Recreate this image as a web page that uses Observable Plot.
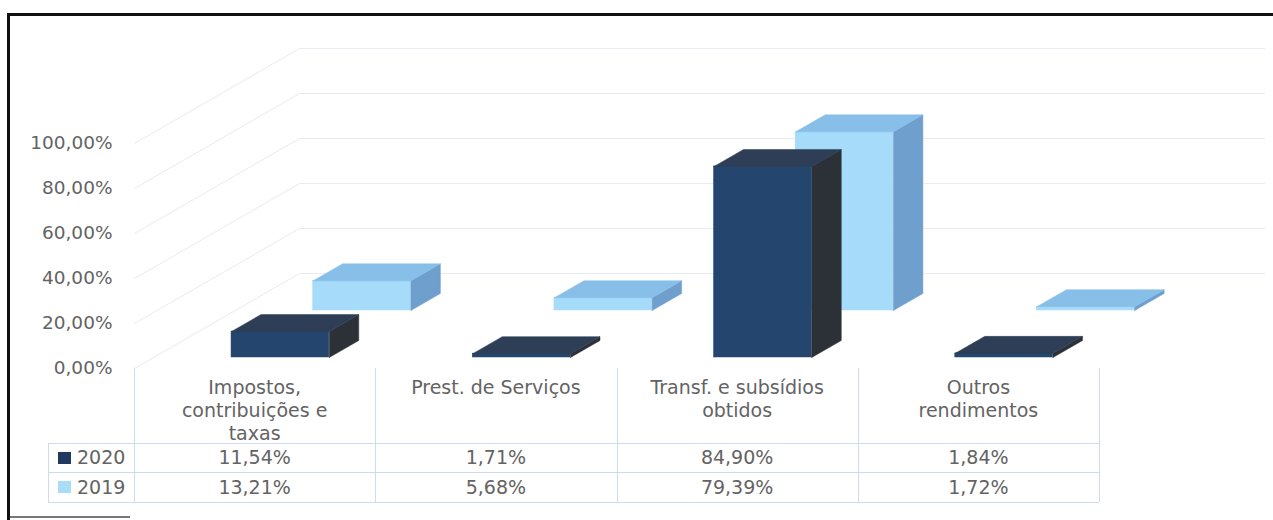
<!DOCTYPE html>
<html><head><meta charset="utf-8">
<script src="https://cdn.jsdelivr.net/npm/d3@7"></script>
<script src="https://cdn.jsdelivr.net/npm/@observablehq/plot@0.6"></script>
<style>
body{margin:0;background:#fff;}
#wrap{position:relative;width:1273px;height:520px;overflow:hidden;font-family:"DejaVu Sans",sans-serif;color:#636363;}
#frame{position:absolute;left:7px;top:13px;width:1290px;height:520px;border-left:3px solid #111;border-top:3px solid #111;}
#bottomline{position:absolute;left:10px;top:516px;width:120px;height:0;border-top:2px solid #777;}
#chart{position:absolute;left:0;top:0;}
.cell{position:absolute;text-align:center;font-size:19px;line-height:23px;white-space:nowrap;}
.hl{position:absolute;height:0;border-top:1px solid #cddbed;}
.vl{position:absolute;width:0;border-left:1px solid #cddbed;}
.sw{position:absolute;width:13px;height:12px;}
</style></head><body>
<div id="wrap"><div id="frame"></div><div id="bottomline"></div><div id="chart"></div><div id="table"></div></div>
<script>
// ---- data ----
const categories = ["Impostos, contribuições e taxas", "Prest. de Serviços", "Transf. e subsídios obtidos", "Outros rendimentos"];
const categoryLines = [["Impostos,", "contribuições e", "taxas"], ["Prest. de Serviços"], ["Transf. e subsídios", "obtidos"], ["Outros", "rendimentos"]];
const seriesNames = ["2020", "2019"];
const values2020 = [11.54, 1.71, 84.90, 1.84];
const values2019 = [13.21, 5.68, 79.39, 1.72];
const yTicks = [0, 20, 40, 60, 80, 100];

// ---- styles ----
const palette = {
  "2020": {front: "#24466e", top: "#2d3e56", side: "#2c3037", legend: "#1f3a60"},
  "2019": {front: "#a6dbf9", top: "#87bfe9", side: "#6f9fcc", legend: "#a9dcf7"}
};
const W = 1273, H = 372, ML = 134, MR = 174, MT = 143, MB = 4;
const pxPerX = (W - ML - MR) / 4, pxPerY = (H - MT - MB) / 100;
const SLOPE = 1.737;               // oblique depth direction (x px per y px)
const depthRows = {"2020": [11, 28], "2019": [58, 75]};
const wallDepth = 95;
function P(xu, v, d) { return {x: xu + d * SLOPE / pxPerX, y: v + d / pxPerY}; }
const fmt = v => v.toFixed(2).replace(".", ",") + "%";

// ---- build geometry in data units ----
const seriesValues = {"2020": values2020, "2019": values2019};
const grid = [];
yTicks.forEach(t => {
  [P(0, t, 0), P(0, t, wallDepth), P(4, t, wallDepth)].forEach(p => grid.push({...p, k: t}));
});
function faces(s) {
  const [dF, dB] = depthRows[s];
  const front = [], top = [], side = [];
  seriesValues[s].forEach((v, i) => {
    const x0 = i + 0.323, x1 = i + 0.728;
    const a = P(x0, 0, dF), b = P(x1, v, dF);
    front.push({x1: a.x, x2: b.x, y1: a.y, y2: b.y});
    [P(x0, v, dF), P(x1, v, dF), P(x1, v, dB), P(x0, v, dB), P(x0, v, dF)].forEach(p => top.push({...p, k: i}));
    [P(x1, 0, dF), P(x1, v, dF), P(x1, v, dB), P(x1, 0, dB), P(x1, 0, dF)].forEach(p => side.push({...p, k: i}));
  });
  return {front, top, side};
}
const marks = [
  Plot.line(grid, {x: "x", y: "y", z: "k", stroke: "#e9ebf2", strokeWidth: 1})
];
["2019", "2020"].forEach(s => {
  const f = faces(s), c = palette[s];
  marks.push(
    Plot.rect(f.front, {x1: "x1", x2: "x2", y1: "y1", y2: "y2", fill: c.front, stroke: c.front, strokeWidth: 0.5}),
    Plot.line(f.side, {x: "x", y: "y", z: "k", fill: c.side, stroke: c.side, strokeWidth: 0.5}),
    Plot.line(f.top, {x: "x", y: "y", z: "k", fill: c.top, stroke: c.top, strokeWidth: 0.5})
  );
});
marks.push(Plot.axisY(yTicks, {tickSize: 0, tickPadding: 22, tickFormat: fmt, fontSize: 18.5}));

const chart = Plot.plot({
  width: W, height: H, marginLeft: ML, marginRight: MR, marginTop: MT, marginBottom: MB,
  x: {domain: [0, 4], axis: null},
  y: {domain: [0, 100]},
  style: {fontFamily: "DejaVu Sans", fontSize: "18.5px", color: "#636363", background: "transparent", overflow: "visible"},
  marks
});
document.getElementById("chart").appendChild(chart);

// ---- data table below the chart (columns from the x scale) ----
const xs = chart.scale("x");
const colX = d3.range(5).map(i => xs.apply(i));
const tbl = document.getElementById("table");
const add = (cls, css, html) => { const e = document.createElement("div"); e.className = cls; Object.assign(e.style, css); if (html != null) e.innerHTML = html; tbl.appendChild(e); return e; };
const top0 = 368, rowY = [443, 472, 502], legendLeft = 48;
colX.forEach(x => add("vl", {left: x + "px", top: top0 + "px", height: (rowY[2] - top0) + "px"}));
add("vl", {left: legendLeft + "px", top: rowY[0] + "px", height: (rowY[2] - rowY[0]) + "px"});
rowY.forEach(y => add("hl", {left: legendLeft + "px", top: y + "px", width: (colX[4] - legendLeft) + "px"}));
categoryLines.forEach((lines, i) => {
  add("cell", {left: colX[i] + "px", width: (colX[i + 1] - colX[i]) + "px", top: (top0 + 7.5) + "px"}, lines.join("<br>"));
});
seriesNames.forEach((s, r) => {
  const y0 = rowY[r], h = rowY[r + 1] - rowY[r];
  add("sw", {left: "58px", top: (y0 + h / 2 - 6) + "px", background: palette[s].legend});
  add("cell", {left: "77px", top: (y0 + h / 2 - 11.5) + "px", textAlign: "left"}, s);
  seriesValues[s].forEach((v, i) => {
    add("cell", {left: colX[i] + "px", width: (colX[i + 1] - colX[i]) + "px", top: (y0 + h / 2 - 11.5) + "px"}, fmt(v));
  });
});
</script>
</body></html>
